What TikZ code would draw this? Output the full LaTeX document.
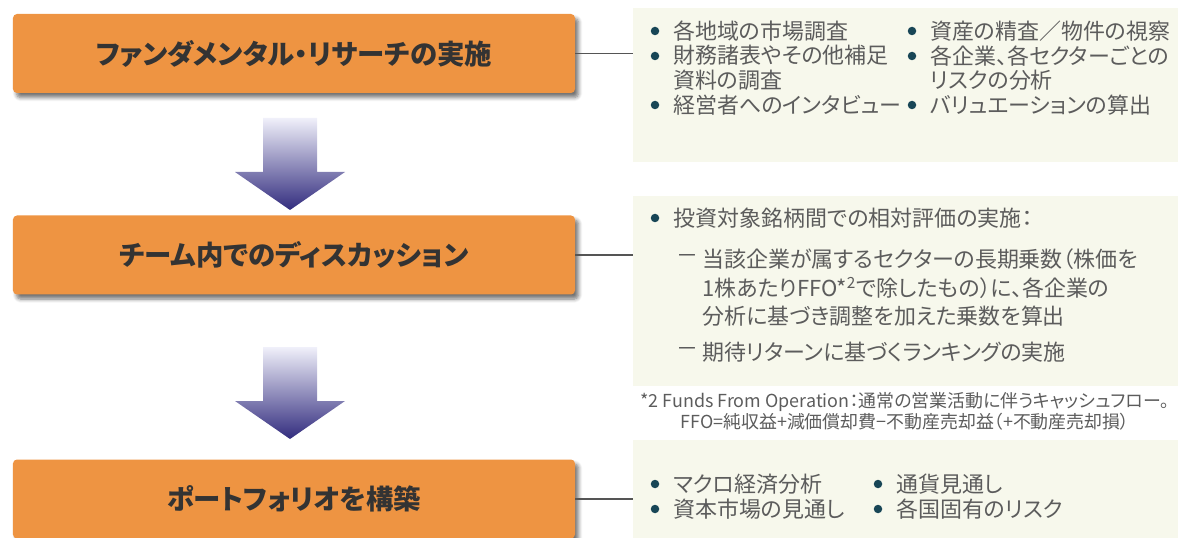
\documentclass[tikz,border=0pt]{standalone}
\usepackage{fontspec}
\setmainfont{Noto Sans CJK JP}[RawFeature=+palt]
\usetikzlibrary{shadows.blur}

\definecolor{stagefill}{RGB}{238,148,66}
\definecolor{panelfill}{RGB}{247,248,236}
\definecolor{bodytext}{RGB}{92,92,92}
\definecolor{dotfill}{RGB}{24,70,86}
\definecolor{arrowtop}{RGB}{240,240,250}
\definecolor{arrowbot}{RGB}{50,44,126}
\definecolor{linkgray}{RGB}{85,85,85}

\tikzset{stage/.style={rectangle,rounded corners=0.08cm,fill=stagefill,minimum width=11.24cm,minimum height=1.58cm,font=\fontsize{15.6}{17}\selectfont\bfseries,text=black!80,blur shadow={shadow xshift=0.07cm,shadow yshift=-0.09cm,shadow blur steps=6,shadow opacity=55}},
panel/.style={rectangle,fill=panelfill,minimum width=10.9cm,inner sep=0},
dot/.style={circle,fill=dotfill,inner sep=0,minimum size=0.17cm},
item/.style={anchor=west,font=\fontsize{12.5}{14}\selectfont,text=bodytext,inner sep=0,align=left},
note/.style={font=\fontsize{10.2}{12}\selectfont,text=bodytext,inner sep=0,align=center},
link/.style={draw=linkgray,line width=0.7pt},
blockarrow/.style={top color=arrowtop,bottom color=arrowbot}}

\begin{document}
\begin{tikzpicture}[x=0.2mm,y=-0.2mm]
\useasboundingbox (0,0) rectangle (1178,538);

%% Coordinates of stages, panels and arrows.
\coordinate (c1) at (294,53.5);
\coordinate (c2) at (294,255);
\coordinate (c3) at (294,499);
\coordinate (q1) at (905.5,85);
\coordinate (q2) at (905.5,291);
\coordinate (q3) at (905.5,489.5);
\coordinate (t1) at (290,118);
\coordinate (t2) at (290,347);

%% panels
\node [panel,minimum height=3.08cm] (p1) at (q1) {};
\node [panel,minimum height=3.80cm] (p2) at (q2) {};
\node [panel,minimum height=1.97cm] (p3) at (q3) {};

%% stages
\node [stage] (s1) at (c1) {ファンダメンタル・リサーチの実施};
\node [stage] (s2) at (c2) {チーム内でのディスカッション};
\node [stage] (s3) at (c3) {ポートフォリオを構築};

%% links
\draw [link] (s1.east) -- (s1.east -| p1.west);
\draw [link] (s2.east) -- (s2.east -| p2.west);
\draw [link] (s3.east) -- (s3.east -| p3.west);

%% block arrows
\shade [blockarrow,shift={(t1)}] (-27,0) -- (27,0) -- (27,54) -- (55,54) -- (0,92) -- (-55,54) -- (-27,54) -- cycle;
\shade [blockarrow,shift={(t2)}] (-27,0) -- (27,0) -- (27,54) -- (55,54) -- (0,92) -- (-55,54) -- (-27,54) -- cycle;

%% first panel
\node [dot] (d11) at (655,31) {};
\node [dot] (d12) at (655,56) {};
\node [dot] (d13) at (655,105) {};
\node [dot] (d14) at (912,31) {};
\node [dot] (d15) at (912,56) {};
\node [dot] (d16) at (912,105) {};
\node [item] (i11) at (673,31) {各地域の市場調査};
\node [item] (i12) at (673,68) {財務諸表やその他補足\\資料の調査};
\node [item] (i13) at (673,105) {経営者へのインタビュー};
\node [item] (i14) at (930,31) {資産の精査／物件の視察};
\node [item] (i15) at (930,68) {各企業、各セクターごとの\\リスクの分析};
\node [item] (i16) at (930,105) {バリュエーションの算出};

%% second panel
\node [dot] (d21) at (655,218) {};
\node [item] (i21) at (673,218) {投資対象銘柄間での相対評価の実施：};
\node [item] (m22) at (676,259) {－};
\node [item,font=\fontsize{12.5}{16.2}\selectfont] (i22) at (702,288) {当該企業が属するセクターの長期乗数（株価を\\1株あたりFFO*\textsuperscript{2}で除したもの）に、各企業の\\分析に基づき調整を加えた乗数を算出};
\node [item] (m23) at (676,352) {－};
\node [item] (i23) at (702,352) {期待リターンに基づくランキングの実施};

%% footnote
\node [note] (fn) at (905,411) {*2 Funds From Operation：通常の営業活動に伴うキャッシュフロー。\\FFO=純収益+減価償却費−不動産売却益（+不動産売却損）};

%% third panel
\node [dot] (d31) at (655,484) {};
\node [dot] (d32) at (655,509) {};
\node [dot] (d33) at (878,484) {};
\node [dot] (d34) at (878,509) {};
\node [item] (i31) at (673,484) {マクロ経済分析};
\node [item] (i32) at (673,509) {資本市場の見通し};
\node [item] (i33) at (896,484) {通貨見通し};
\node [item] (i34) at (896,509) {各国固有のリスク};

\end{tikzpicture}
\end{document}
